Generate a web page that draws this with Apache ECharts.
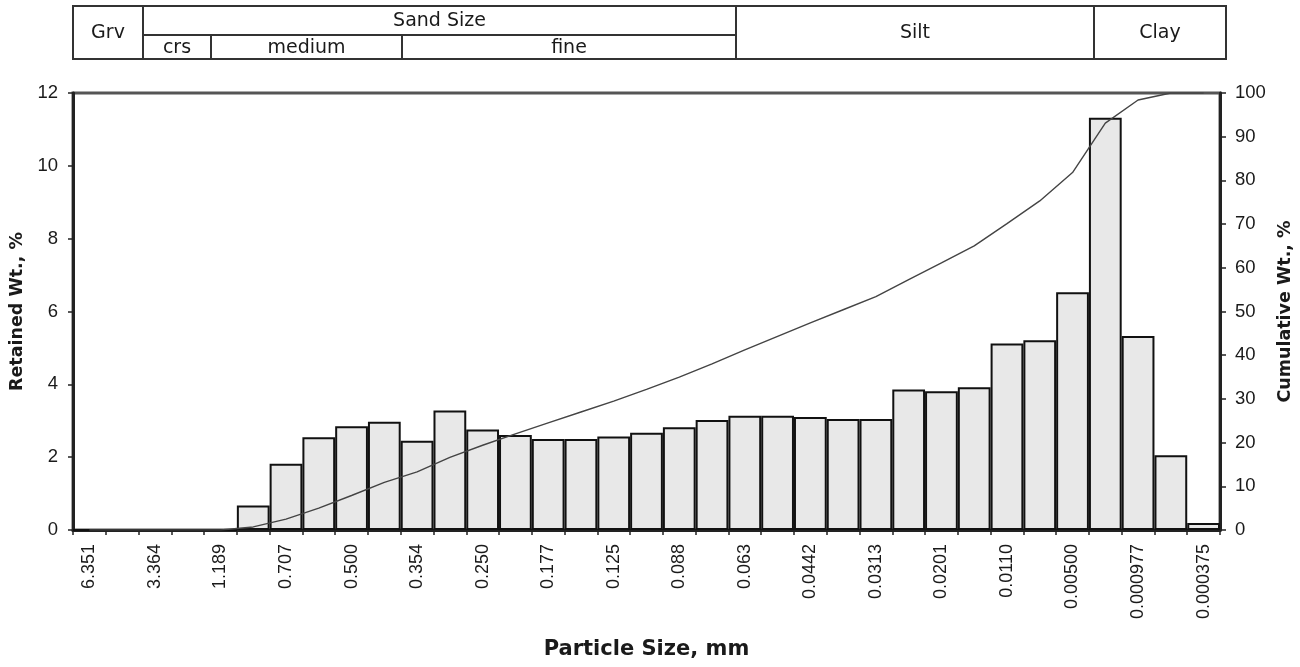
<!DOCTYPE html>
<html>
<head>
<meta charset="utf-8">
<script src="https://cdn.jsdelivr.net/npm/echarts@6/dist/echarts.min.js"></script>
<style>
html,body{margin:0;padding:0;background:#fff;}
#chart{width:1300px;height:667px;}
</style>
</head>
<body>
<div id="chart"></div>
<script>
// Particle size tick labels (every other class boundary is labelled)
const sizeLabels = ['6.351','3.364','1.189','0.707','0.500','0.354','0.250','0.177','0.125',
  '0.088','0.063','0.0442','0.0313','0.0201','0.0110','0.00500','0.000977','0.000375'];

// Retained weight per size class, %
const retained = [0,0,0,0,0,0.67,1.82,2.55,2.85,2.97,2.45,3.28,2.76,2.61,2.50,2.50,2.57,2.67,
  2.82,3.02,3.14,3.14,3.10,3.05,3.05,3.86,3.81,3.92,5.12,5.21,6.53,11.32,5.33,2.05,0.19];

// Cumulative weight, %
const cumulative = [0,0,0,0,0,0.7,2.5,5.0,7.9,10.9,13.3,16.6,19.4,22.0,24.5,27.0,29.5,32.2,
  35.0,38.0,41.2,44.3,47.4,50.4,53.4,57.3,61.1,65.0,70.1,75.3,81.8,93.1,98.4,100,100];

// Size-class table above the chart
const classNames = ['Grv','Sand Size','crs','medium','fine','Silt','Clay'];

const categories = retained.map((_, i) => (i % 2 === 0 ? sizeLabels[i / 2] : ''));

const FONT = '"Liberation Sans", Arial, sans-serif';
const WIDE = '"DejaVu Sans", "Liberation Sans", sans-serif';
const TXT = '#1a1a1a';

// table geometry (decoration)
const tTop = 6, tMid = 35, tBot = 59;
const cells = [
  {x0: 73,   x1: 143,  y0: tTop, y1: tBot, label: classNames[0]},
  {x0: 143,  x1: 736,  y0: tTop, y1: tMid, label: classNames[1]},
  {x0: 143,  x1: 211,  y0: tMid, y1: tBot, label: classNames[2]},
  {x0: 211,  x1: 402,  y0: tMid, y1: tBot, label: classNames[3]},
  {x0: 402,  x1: 736,  y0: tMid, y1: tBot, label: classNames[4]},
  {x0: 736,  x1: 1094, y0: tTop, y1: tBot, label: classNames[5]},
  {x0: 1094, x1: 1226, y0: tTop, y1: tBot, label: classNames[6]}
];
const graphics = [];
cells.forEach(c => {
  graphics.push({
    type: 'rect', z: 10,
    shape: {x: c.x0, y: c.y0, width: c.x1 - c.x0, height: c.y1 - c.y0},
    style: {fill: '#fff', stroke: '#333', lineWidth: 2}
  });
});
cells.forEach(c => {
  graphics.push({
    type: 'text', z: 11,
    x: (c.x0 + c.x1) / 2, y: (c.y0 + c.y1) / 2 + 1,
    style: {text: c.label, fill: TXT, font: '19px ' + WIDE, align: 'center', verticalAlign: 'middle'}
  });
});

const chart = echarts.init(document.getElementById('chart'), null, {renderer: 'canvas'});
chart.setOption({
  animation: false,
  backgroundColor: '#fff',
  textStyle: {fontFamily: FONT},
  grid: {
    left: 73, right: 80, top: 93, bottom: 137,
    show: true, borderColor: '#555', borderWidth: 3,
    containLabel: false, outerBoundsMode: 'none'
  },
  graphic: graphics,
  xAxis: [{
    type: 'category',
    data: categories,
    boundaryGap: true,
    axisLine: {show: true, lineStyle: {color: '#222', width: 3}},
    axisTick: {show: true, interval: 0, alignWithLabel: false, length: 5, lineStyle: {color: '#222', width: 1.5}},
    axisLabel: {interval: 0, rotate: 90, margin: 14, fontSize: 18, color: TXT, fontFamily: FONT},
    splitLine: {show: false},
    name: 'Particle Size, mm',
    nameLocation: 'middle',
    nameGap: 109,
    nameTextStyle: {fontSize: 21, fontWeight: 'bold', color: TXT, fontFamily: WIDE}
  }],
  yAxis: [{
    type: 'value', position: 'left',
    min: 0, max: 12, interval: 2,
    axisLine: {show: true, lineStyle: {color: '#222', width: 3}},
    axisTick: {show: true, length: 5, lineStyle: {color: '#222', width: 1.5}},
    axisLabel: {margin: 15, fontSize: 18.5, color: TXT, fontFamily: FONT},
    splitLine: {show: false},
    name: 'Retained Wt., %',
    nameLocation: 'middle', nameRotate: 90, nameGap: 45,
    nameTextStyle: {fontSize: 17.5, fontWeight: 'bold', color: TXT, fontFamily: WIDE}
  }, {
    type: 'value', position: 'right',
    min: 0, max: 100, interval: 10,
    axisLine: {show: true, lineStyle: {color: '#222', width: 3}},
    axisTick: {show: true, length: 6, lineStyle: {color: '#222', width: 1.5}},
    axisLabel: {margin: 15, fontSize: 18.5, color: TXT, fontFamily: FONT},
    splitLine: {show: false},
    name: 'Cumulative Wt., %',
    nameLocation: 'middle', nameRotate: 90, nameGap: 54,
    nameTextStyle: {fontSize: 17.5, fontWeight: 'bold', color: TXT, fontFamily: WIDE}
  }],
  series: [{
    name: 'Retained Wt., %',
    type: 'bar',
    data: retained,
    xAxisIndex: 0, yAxisIndex: 0,
    barCategoryGap: '0%',
    itemStyle: {color: '#e8e8e8', borderColor: '#111', borderWidth: 2},
    z: 2
  }, {
    name: 'Cumulative Wt., %',
    type: 'line',
    data: cumulative,
    xAxisIndex: 0, yAxisIndex: 1,
    showSymbol: false, symbol: 'none',
    lineStyle: {color: '#444', width: 1.4},
    z: 3
  }]
});
</script>
</body>
</html>
